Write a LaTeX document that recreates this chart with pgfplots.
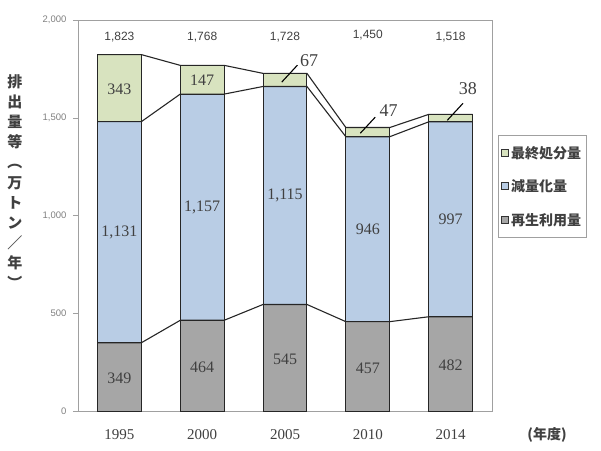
\documentclass[border=0pt]{standalone}
\usepackage{pgfplots}
\pgfplotsset{compat=1.18}
\usepackage{pgfplotstable}
\usepackage{graphicx}
\usepackage{fontspec}
\setmainfont{Liberation Serif}
\newfontfamily\sansf{Liberation Sans}
\newfontfamily\cjk{Noto Sans CJK JP}
\definecolor{cGray}{HTML}{A6A6A6}
\definecolor{cBlue}{HTML}{B9CDE5}
\definecolor{cGreen}{HTML}{D8E3BF}
\definecolor{cAxis}{HTML}{A0A0A0}
\definecolor{cText}{HTML}{404040}

\pgfplotstableread{
x recycle reduce final
0 349 1131 343
1 464 1157 147
2 545 1115 67
3 457 946 47
4 482 997 38
}\datatable

\pgfplotstableread{
x y label
0 168 349
1 224 464
2 266 545
3 220 457
4 233 482
0 914 1,131
1 1042 1,157
2 1102 1,115
3 930 946
4 980 997
0 1645 343
1 1692 147
}\barlabels

\pgfplotstableread{
x y label
0 1912 1,823
1 1912 1,768
2 1912 1,728
3 1925 1,450
4 1912 1,518
}\totals

\pgfplotstableread{
x y label
2.29 1790 67
3.25 1538 47
4.21 1651 38
}\outlabels

\pgfplotsset{
  base/.style={scale only axis, width=414pt, height=391pt,
    xmin=-0.5, xmax=4.5, ymin=0, ymax=2000, at={(0,0)}, anchor=south west},
  sq/.style={legend image code/.code={\draw[##1,draw=black!80,line width=0.8pt] (0pt,-3.5pt) rectangle (7pt,3.5pt);}},
}

\begin{document}
\begin{tikzpicture}
\useasboundingbox (-78pt,-39pt) rectangle (523pt,411pt);
\begin{axis}[base, ybar stacked, bar width=0.53,
  axis line style={draw=cAxis},
  xtick={0,1,2,3,4}, xticklabels={1995,2000,2005,2010,2014},
  x tick label style={font=\fontsize{15}{15}\selectfont, text=cText, yshift=-10pt},
  major x tick style={draw=none},
  ytick={0,500,1000,1500,2000}, yticklabels={0,500,{1,000},{1,500},{2,000}},
  y tick label style={font=\sansf\fontsize{9.5}{9.5}\selectfont, text=gray, xshift=-3pt},
  ytick pos=left, tick align=outside, major tick length=5pt,
  major y tick style={draw=cAxis},
  reverse legend,
  legend style={at={(1.015,0.706)}, anchor=north west, draw=cAxis,
    font=\cjk\bfseries\fontsize{14}{14}\selectfont, text=cText, row sep=16pt,
    inner xsep=3pt, inner ysep=9pt, legend cell align=left},
]
\addplot[sq, fill=cGray, draw=black!85, line width=1pt] table[x=x,y=recycle]{\datatable};
\addlegendentry{再生利用量}
\addplot[sq, fill=cBlue, draw=black!85, line width=1pt] table[x=x,y=reduce]{\datatable};
\addlegendentry{減量化量}
\addplot[sq, fill=cGreen, draw=black!85, line width=1pt] table[x=x,y=final]{\datatable};
\addlegendentry{最終処分量}
\end{axis}
\begin{axis}[base, hide axis]
\addplot[black!85, line width=1.1pt] coordinates {(-0.265,349)(0.265,349)(0.735,464)(1.265,464)(1.735,545)(2.265,545)(2.735,457)(3.265,457)(3.735,482)(4.265,482)};
\addplot[black!85, line width=1.1pt] coordinates {(-0.265,1480)(0.265,1480)(0.735,1621)(1.265,1621)(1.735,1660)(2.265,1660)(2.735,1403)(3.265,1403)(3.735,1479)(4.265,1479)};
\addplot[black!85, line width=1.1pt] coordinates {(-0.265,1823)(0.265,1823)(0.735,1768)(1.265,1768)(1.735,1727)(2.265,1727)(2.735,1450)(3.265,1450)(3.735,1517)(4.265,1517)};
\addplot[black, line width=1.1pt] coordinates {(1.96,1682)(2.15,1769)};
\addplot[black, line width=1.1pt] coordinates {(2.91,1421)(3.09,1503)};
\addplot[black, line width=1.1pt] coordinates {(3.96,1487)(4.15,1574)};
\addplot[only marks, mark=none, nodes near coords, point meta=explicit symbolic,
  nodes near coords align=center,
  every node near coord/.style={font=\fontsize{16}{16}\selectfont, text=cText, inner sep=0pt}]
  table[x=x,y=y,meta=label]{\barlabels};
\addplot[only marks, mark=none, nodes near coords, point meta=explicit symbolic,
  nodes near coords align=center,
  every node near coord/.style={font=\sansf\fontsize{12}{12}\selectfont, text=cText, inner sep=0pt}]
  table[x=x,y=y,meta=label]{\totals};
\addplot[only marks, mark=none, nodes near coords, point meta=explicit symbolic,
  nodes near coords align=center,
  every node near coord/.style={font=\fontsize{18}{18}\selectfont, text=cText, inner sep=0pt}]
  table[x=x,y=y,meta=label]{\outlabels};
\end{axis}
\node[font=\cjk\bfseries\fontsize{15}{20.2}\selectfont, text=cText, inner sep=0pt] at (-63pt,227pt)
  {\begin{tabular}{@{}c@{}}排\\出\\量\\等\\\rotatebox[origin=c]{-90}{（}\\万\\ト\\ン\\／\\年\\\rotatebox[origin=c]{-90}{）}\end{tabular}};
\node[font=\cjk\bfseries\fontsize{14}{14}\selectfont, text=cText, inner sep=0pt] at (469pt,-24pt) {(年度)};
\end{tikzpicture}
\end{document}
